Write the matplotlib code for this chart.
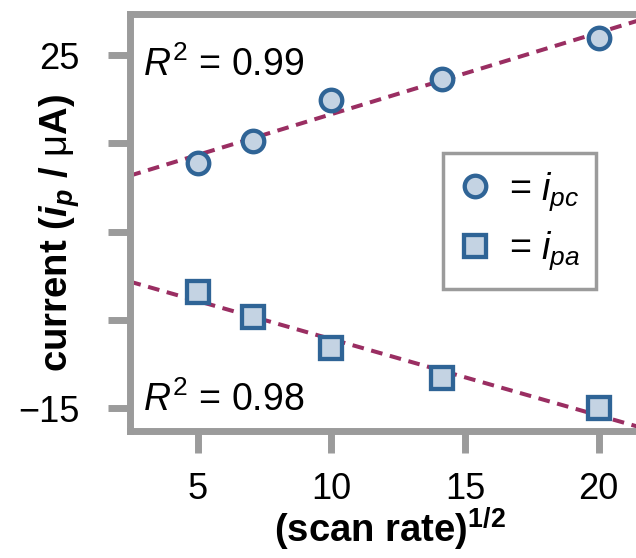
import numpy as np
import matplotlib
matplotlib.use("Agg")
import matplotlib.pyplot as plt
from matplotlib.lines import Line2D

# Peak currents vs. square root of scan rate
scan_rate = np.array([25, 50, 100, 200, 400])
sqrt_rate = np.sqrt(scan_rate)
i_pc = np.array([12.8, 15.3, 19.95, 22.3, 26.95])
i_pa = np.array([-1.85, -4.7, -8.2, -11.6, -15.0])
r2_pc = "0.99"
r2_pa = "0.98"

x_ticks = [5, 10, 15, 20]
x_tick_labels = ["5", "10", "15", "20"]
y_ticks = [-15, -5, 5, 15, 25]
y_tick_labels = ["\u221215", "", "", "", "25"]

plt.rcParams["font.family"] = ["Liberation Sans", "DejaVu Sans"]
plt.rcParams["mathtext.fontset"] = "custom"
plt.rcParams["mathtext.rm"] = "Liberation Sans"
plt.rcParams["mathtext.it"] = "Liberation Sans:italic"
plt.rcParams["mathtext.bf"] = "Liberation Sans:bold"
plt.rcParams["mathtext.bfit"] = "Liberation Sans:bold:italic"

GRAY = "#9b9b9b"
EDGE = "#2f6496"
FACE = "#c4d3e3"
FIT = "#9a2e62"

fig = plt.figure(figsize=(6.36, 5.58), dpi=100)
W, H = 636, 558
left, right_px, top, bottom = 129.5, 652.0, 13.7, 430.5
ax = fig.add_axes([left / W, 1 - bottom / H, (right_px - left) / W, (bottom - top) / H])

xmin, xmax = 2.44, 22.0
ax.set_xlim(xmin, xmax)
ax.set_ylim(-17.55, 29.7)

# least-squares fits drawn across the whole axis
xx = np.array([xmin, xmax])
for y in (i_pc, i_pa):
    m, b = np.polyfit(sqrt_rate, y, 1)
    ax.plot(xx, m * xx + b, color=FIT, lw=2.9, ls=(0, (2.9, 1.9)), zorder=2)

mk = dict(ls="none", mew=3.1, mec=EDGE, mfc=FACE)
ax.plot(sqrt_rate, i_pc, marker="o", ms=15.5, zorder=3, **mk)
ax.plot(sqrt_rate, i_pa, marker="s", ms=15.5, zorder=3, **mk)

for side in ("top", "left", "bottom"):
    ax.spines[side].set_color(GRAY)
    ax.spines[side].set_linewidth(5)
    ax.spines[side].set_capstyle("projecting")
ax.spines["right"].set_visible(False)

ax.set_xticks(x_ticks)
ax.set_xticklabels(x_tick_labels)
ax.set_yticks(y_ticks)
ax.set_yticklabels(y_tick_labels)
ax.tick_params(axis="both", direction="out", length=16, width=5, color=GRAY,
               labelsize=26, labelcolor="black")
ax.tick_params(axis="y", pad=20)
ax.tick_params(axis="x", pad=14)

fig.text(143 / W, 1 - 76 / H, r"$\mathit{R}^{\mathrm{2}}$ = " + r2_pc,
         fontsize=27, ha="left", va="baseline")
fig.text(143 / W, 1 - 411 / H, r"$\mathit{R}^{\mathrm{2}}$ = " + r2_pa,
         fontsize=27, ha="left", va="baseline")

fig.text(60 / W, 1 - 233 / H, "current ($\\mathbfit{i_p}$ / $\\mathrm{\u03bc}$A)",
         fontsize=27.5, fontweight="bold", rotation=90, ha="center", va="center")
fig.text(390 / W, 1 - 543 / H, r"(scan rate)$^{\mathbf{1/2}}$",
         fontsize=27.5, fontweight="bold", ha="center", va="baseline")

handles = [
    Line2D([], [], marker="o", ms=15.5, **mk),
    Line2D([], [], marker="s", ms=15.5, **mk),
]
labels = [r"= $\mathit{i}_{\mathit{pc}}$", r"= $\mathit{i}_{\mathit{pa}}$"]
leg = ax.legend(handles, labels, loc="upper left",
                bbox_to_anchor=((443 - left) / (right_px - left), (bottom - 153) / (bottom - top)),
                fontsize=27, frameon=True, fancybox=False, framealpha=1,
                edgecolor=GRAY, handlelength=0.8, handletextpad=0.5,
                borderpad=0.45, labelspacing=0.45, borderaxespad=0)
leg.get_frame().set_linewidth(2.5)

fig.savefig("out.png", dpi=100)
